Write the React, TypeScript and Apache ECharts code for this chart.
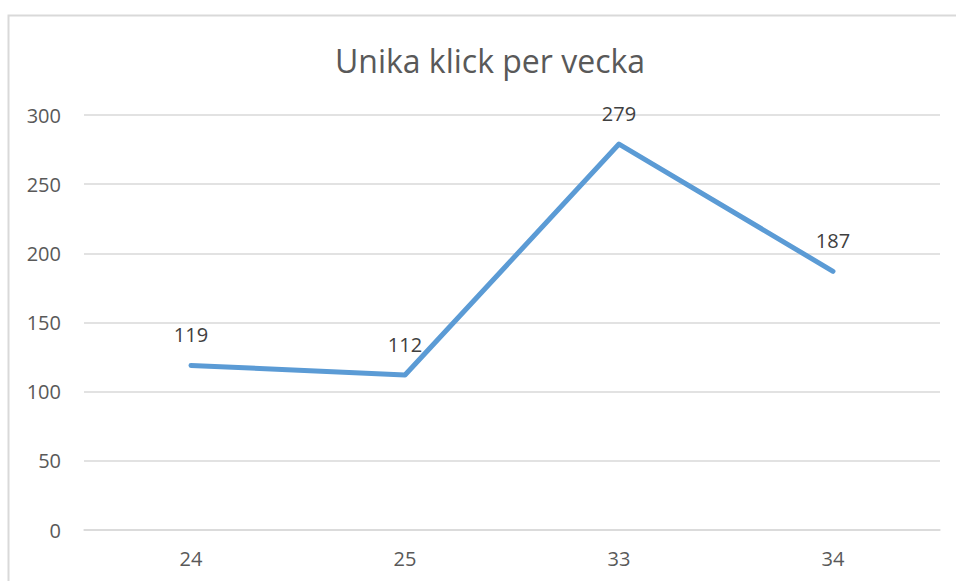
import React, { useEffect, useRef } from "react";
import * as echarts from "echarts";

const titleText = "Unika klick per vecka";
const weeks = ["24", "25", "33", "34"];
const clicks = [119, 112, 279, 187];
const yTicks = { min: 0, max: 300, interval: 50 };

export default function App() {
  const ref = useRef<HTMLDivElement>(null);
  useEffect(() => {
    if (!ref.current) return;
    const chart = echarts.init(ref.current, undefined, { renderer: "svg" });
    const font = "'Open Sans', sans-serif";
    chart.setOption({
      animation: false,
      backgroundColor: "#ffffff",
      title: {
        text: titleText,
        left: 485,
        textAlign: "center",
        top: 39,
        textStyle: { fontFamily: font, fontSize: 32, fontWeight: "normal", color: "#595959" },
      },
      graphic: [
        {
          type: "polyline",
          shape: { points: [[8.5, 590], [8.5, 15.5], [960, 15.5]] },
          style: { stroke: "#d9d9d9", lineWidth: 2, fill: "none" },
          silent: true,
        },
      ],
      grid: { left: 84, right: 16, top: 115, bottom: 51 },
      xAxis: {
        type: "category",
        data: weeks,
        boundaryGap: true,
        axisLine: { show: true, lineStyle: { color: "#d9d9d9", width: 1.5 } },
        axisTick: { show: false },
        axisLabel: { fontFamily: font, fontSize: 20, color: "#595959", margin: 18 },
      },
      yAxis: {
        type: "value",
        min: yTicks.min,
        max: yTicks.max,
        interval: yTicks.interval,
        axisLine: { show: false },
        axisTick: { show: false },
        splitLine: { lineStyle: { color: "#d9d9d9", width: 1.5 } },
        axisLabel: { fontFamily: font, fontSize: 20, color: "#595959", margin: 23 },
      },
      series: [
        {
          type: "line",
          data: clicks,
          symbol: "circle",
          symbolSize: 1,
          itemStyle: { color: "#5b9bd5" },
          lineStyle: { color: "#5b9bd5", width: 5, cap: "round", join: "round" },
          label: {
            show: true,
            position: "top",
            distance: 20,
            fontFamily: font,
            fontSize: 20,
            color: "#404040",
          },
        },
      ],
    });
    return () => chart.dispose();
  }, []);
  return (
    <div
      ref={ref}
      style={{ position: "fixed", left: 0, top: 0, width: 956, height: 581 }}
    />
  );
}
